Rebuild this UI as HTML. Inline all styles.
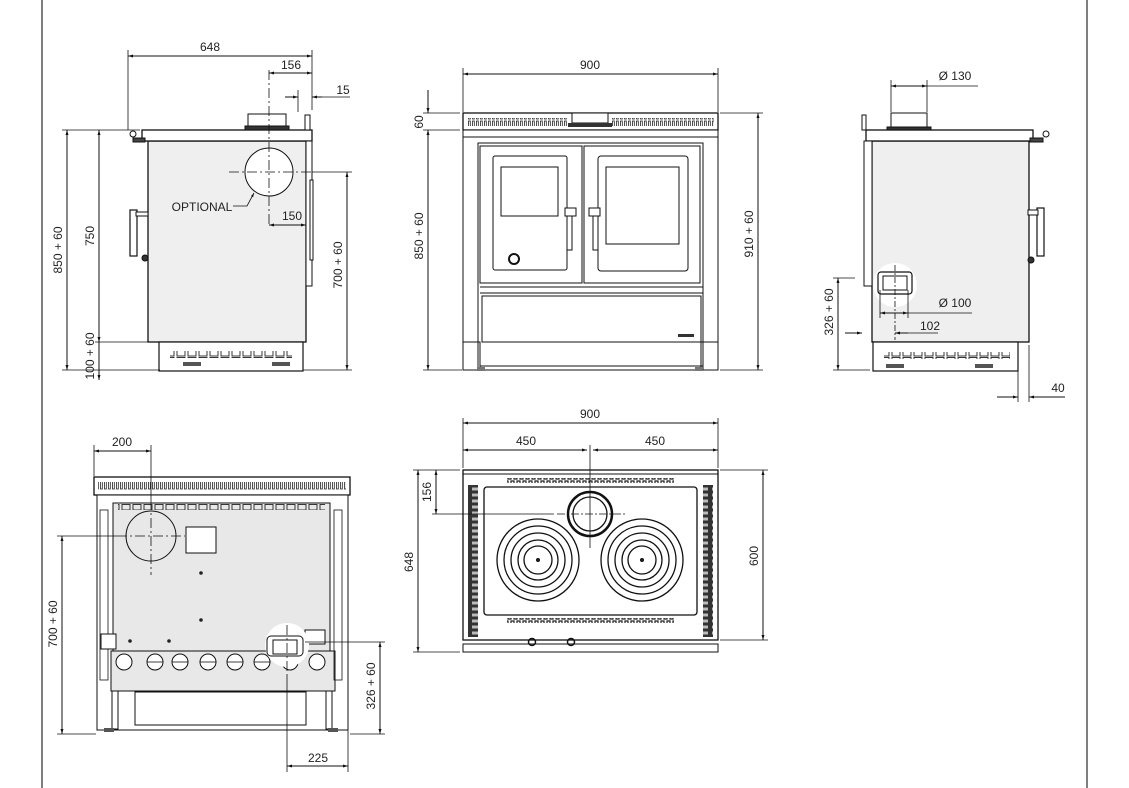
<!DOCTYPE html>
<html><head><meta charset="utf-8"><style>
html,body{margin:0;padding:0;background:#fff;}
svg{display:block;font-family:"Liberation Sans",Arial,sans-serif;}
text{font-size:12px;fill:#222;}
</style></head><body>
<svg width="1129" height="788" viewBox="0 0 1129 788" xmlns="http://www.w3.org/2000/svg">
<defs>
<marker id="a" viewBox="0 0 10 10" refX="10" refY="5" markerWidth="7" markerHeight="5" orient="auto-start-reverse"><path d="M0,2L10,5L0,8z" fill="#111"/></marker>
<pattern id="slots" width="4" height="10" patternUnits="userSpaceOnUse"><rect x="0.5" y="1" width="1.8" height="8" fill="none" stroke="#222" stroke-width="0.8"/></pattern>
<pattern id="grille" width="10" height="6" patternUnits="userSpaceOnUse"><rect x="0" y="0" width="10" height="6" fill="#333"/><rect x="2" y="1.5" width="6" height="3" fill="#bbb"/></pattern>
<pattern id="teeth" width="6" height="5" patternUnits="userSpaceOnUse"><path d="M0,4H1V1H4V4H6" fill="none" stroke="#222" stroke-width="1.2"/></pattern>
<pattern id="vents" width="11" height="7" patternUnits="userSpaceOnUse"><rect x="1" y="0.5" width="8" height="5.5" fill="none" stroke="#222" stroke-width="0.9"/></pattern>
</defs>
<g stroke="#111" stroke-width="1" fill="none">
<line x1="42" y1="0" x2="42" y2="788" stroke="#555" stroke-width="1.5"/>
<line x1="1087" y1="0" x2="1087" y2="788" stroke="#555" stroke-width="1.5"/>

<!-- ===== LEFT SIDE VIEW ===== -->
<rect x="148" y="141" width="158" height="201" fill="#efefef" stroke-width="1.3"/>
<rect x="142" y="130" width="170" height="11" fill="#fff" stroke-width="1.3"/>
<circle cx="133" cy="134" r="3"/>
<rect x="133" y="138" width="12" height="4" fill="#444"/>
<rect x="248" y="114" width="38" height="13" fill="#fff"/>
<rect x="245" y="126" width="44" height="4" fill="#333"/>
<rect x="305" y="115" width="5" height="15" fill="#fff"/>
<rect x="306" y="141" width="6" height="145" fill="#fff"/>
<rect x="310" y="180" width="3" height="80" fill="#fff"/>
<rect x="130" y="210" width="7" height="46" fill="#fff" stroke-width="1.2"/>
<rect x="136" y="212" width="12" height="4" fill="#fff"/>
<circle cx="145" cy="258" r="3" fill="#333"/>
<rect x="159" y="342" width="144" height="29" fill="#fff" stroke-width="1.2"/>
<rect x="170" y="351" width="122" height="7" fill="url(#vents)" stroke="none"/>
<rect x="183" y="362" width="18" height="4" fill="#555" stroke="none"/>
<rect x="272" y="362" width="18" height="4" fill="#555" stroke="none"/>
<circle cx="269" cy="172" r="24" fill="#fff"/>
<g stroke-dasharray="10,3,2,3" stroke-width="0.8">
<line x1="229" y1="172" x2="312" y2="172"/><line x1="269" y1="70" x2="269" y2="226"/></g>
<line x1="312" y1="172" x2="352" y2="172" stroke-width="0.8"/>
<line x1="128" y1="50" x2="128" y2="130" stroke-width="0.8"/>
<line x1="312" y1="50" x2="312" y2="110" stroke-width="0.8"/>
<line x1="298" y1="90" x2="298" y2="112" stroke-width="0.8"/>
<line x1="128" y1="56" x2="312" y2="56" marker-start="url(#a)" marker-end="url(#a)"/>
<line x1="269" y1="73" x2="312" y2="73" marker-start="url(#a)" marker-end="url(#a)"/>
<line x1="285" y1="97" x2="298" y2="97" marker-end="url(#a)"/>
<line x1="322" y1="97" x2="312" y2="97" marker-end="url(#a)"/>
<line x1="322" y1="97" x2="350" y2="97" stroke-width="0.8"/>
<line x1="269" y1="225" x2="306" y2="225" marker-start="url(#a)" marker-end="url(#a)"/>
<path d="M233,206H247L254,193" marker-end="url(#a)" stroke-width="0.8"/>
<line x1="62" y1="130" x2="140" y2="130" stroke-width="0.8"/>
<line x1="62" y1="370" x2="160" y2="370" stroke-width="0.8"/>
<line x1="95" y1="342" x2="148" y2="342" stroke-width="0.8"/>
<line x1="303" y1="370" x2="352" y2="370" stroke-width="0.8"/>
<line x1="67" y1="130" x2="67" y2="370" marker-start="url(#a)" marker-end="url(#a)"/>
<line x1="99" y1="130" x2="99" y2="342" marker-start="url(#a)" marker-end="url(#a)"/>
<line x1="99" y1="342" x2="99" y2="380" marker-end="url(#a)"/>
<line x1="347" y1="172" x2="347" y2="370" marker-start="url(#a)" marker-end="url(#a)"/>

<!-- ===== FRONT VIEW ===== -->
<rect x="463" y="113" width="255" height="17" fill="#fff" stroke-width="1.3"/>
<rect x="468" y="118" width="100" height="8" fill="url(#slots)" stroke="none"/>
<rect x="612" y="118" width="102" height="8" fill="url(#slots)" stroke="none"/>
<rect x="572" y="113" width="36" height="10" fill="#fff"/>
<rect x="568" y="123" width="44" height="4" fill="#333" stroke="none"/>
<rect x="463" y="130" width="255" height="7" fill="#fff"/>
<rect x="463" y="137" width="255" height="205" fill="#fff"/>
<rect x="478" y="143" width="225" height="227" fill="#fff"/>
<rect x="480" y="146" width="102" height="137"/>
<rect x="584" y="146" width="116" height="137"/>
<rect x="493" y="156" width="74" height="114" rx="2"/>
<rect x="501" y="167" width="57" height="49"/>
<circle cx="514" cy="259" r="5" stroke-width="2"/>
<rect x="598" y="156" width="90" height="115" rx="3"/>
<rect x="606" y="167" width="73" height="77"/>
<rect x="567" y="210" width="5" height="40"/><rect x="565" y="208" width="11" height="8" fill="#fff"/>
<rect x="593" y="210" width="5" height="40"/><rect x="589" y="208" width="11" height="8" fill="#fff"/>
<line x1="480" y1="287" x2="703" y2="287"/>
<line x1="480" y1="293" x2="703" y2="293"/>
<rect x="482" y="296" width="219" height="46"/>
<rect x="678" y="334" width="16" height="3" fill="#333" stroke="none"/>
<rect x="463" y="342" width="17" height="28"/><rect x="701" y="342" width="17" height="28"/>
<line x1="480" y1="366" x2="703" y2="366"/>
<rect x="477" y="367" width="8" height="4" fill="#777" stroke="none"/>
<rect x="695" y="367" width="8" height="4" fill="#777" stroke="none"/>
<line x1="463" y1="68" x2="463" y2="112" stroke-width="0.8"/>
<line x1="718" y1="68" x2="718" y2="112" stroke-width="0.8"/>
<line x1="463" y1="74" x2="718" y2="74" marker-start="url(#a)" marker-end="url(#a)"/>
<line x1="423" y1="113" x2="460" y2="113" stroke-width="0.8"/>
<line x1="423" y1="130" x2="460" y2="130" stroke-width="0.8"/>
<line x1="423" y1="370" x2="462" y2="370" stroke-width="0.8"/>
<line x1="720" y1="113" x2="763" y2="113" stroke-width="0.8"/>
<line x1="720" y1="370" x2="763" y2="370" stroke-width="0.8"/>
<line x1="428" y1="90" x2="428" y2="113" marker-end="url(#a)"/>
<line x1="428" y1="130" x2="428" y2="370" marker-start="url(#a)" marker-end="url(#a)"/>
<line x1="758" y1="113" x2="758" y2="370" marker-start="url(#a)" marker-end="url(#a)"/>

<!-- ===== RIGHT SIDE VIEW ===== -->
<rect x="872" y="141" width="157" height="201" fill="#efefef" stroke-width="1.3"/>
<rect x="866" y="130" width="167" height="11" fill="#fff" stroke-width="1.3"/>
<circle cx="1046" cy="134" r="3"/>
<rect x="1030" y="138" width="13" height="4" fill="#444"/>
<rect x="891" y="113" width="36" height="17" fill="#fff"/>
<rect x="887" y="127" width="44" height="3" fill="#333"/>
<rect x="862" y="115" width="4" height="15" fill="#fff"/>
<rect x="864" y="141" width="8" height="145" fill="#fff"/>
<rect x="1037" y="208" width="7" height="48" fill="#fff" stroke-width="1.2"/>
<rect x="1028" y="210" width="10" height="5" fill="#fff"/>
<circle cx="1031" cy="260" r="3" fill="#333"/>
<circle cx="895" cy="285" r="22" fill="#fff" stroke="none"/>
<rect x="878" y="272" width="34" height="22" rx="3" fill="#fff" stroke-width="1.2"/>
<rect x="883" y="276" width="24" height="14" fill="none"/>
<rect x="873" y="342" width="145" height="29" fill="#fff" stroke-width="1.2"/>
<rect x="884" y="352" width="126" height="7" fill="url(#vents)" stroke="none"/>
<rect x="886" y="364" width="18" height="4" fill="#555" stroke="none"/>
<rect x="975" y="364" width="18" height="4" fill="#555" stroke="none"/>
<line x1="891" y1="80" x2="891" y2="112" stroke-width="0.8"/>
<line x1="927" y1="80" x2="927" y2="112" stroke-width="0.8"/>
<line x1="891" y1="86" x2="927" y2="86" marker-start="url(#a)" marker-end="url(#a)"/>
<line x1="927" y1="86" x2="978" y2="86" stroke-width="0.8"/>
<line x1="880" y1="290" x2="880" y2="318" stroke-width="0.8"/>
<line x1="908" y1="290" x2="908" y2="318" stroke-width="0.8"/>
<line x1="880" y1="313" x2="908" y2="313" marker-start="url(#a)" marker-end="url(#a)"/>
<line x1="908" y1="313" x2="972" y2="313" stroke-width="0.8"/>
<line x1="895" y1="265" x2="895" y2="340" stroke-dasharray="6,2,2,2" stroke-width="0.8"/>
<line x1="845" y1="333" x2="862" y2="333" marker-end="url(#a)"/>
<line x1="908" y1="333" x2="895" y2="333" marker-end="url(#a)"/>
<line x1="908" y1="333" x2="938" y2="333" stroke-width="0.8"/>
<line x1="833" y1="278" x2="855" y2="278" stroke-width="0.8"/>
<line x1="833" y1="370" x2="870" y2="370" stroke-width="0.8"/>
<line x1="838" y1="278" x2="838" y2="370" marker-start="url(#a)" marker-end="url(#a)"/>
<line x1="1018" y1="345" x2="1018" y2="402" stroke-width="0.8"/>
<line x1="1029" y1="345" x2="1029" y2="402" stroke-width="0.8"/>
<line x1="997" y1="397" x2="1018" y2="397" marker-end="url(#a)"/>
<line x1="1065" y1="397" x2="1029" y2="397" marker-end="url(#a)"/>

<!-- ===== BACK VIEW ===== -->
<rect x="94" y="477" width="256" height="18" fill="#fff" stroke-width="1.3"/>
<rect x="98" y="482" width="248" height="8" fill="url(#slots)" stroke="none"/>
<rect x="97" y="495" width="251" height="235" fill="#fff"/>
<rect x="113" y="503" width="217" height="148" fill="#e8e8e8"/>
<rect x="118" y="503" width="207" height="7" fill="url(#vents)" stroke="none"/>
<rect x="111" y="651" width="224" height="40" fill="#e8e8e8"/>
<rect x="100" y="510" width="8" height="170" fill="none" stroke-width="0.8"/>
<rect x="334" y="510" width="8" height="170" fill="none" stroke-width="0.8"/>
<rect x="101" y="634" width="15" height="15" fill="#fff"/>
<rect x="305" y="630" width="20" height="14" fill="#fff"/>
<circle cx="151" cy="536" r="25" fill="#e8e8e8"/>
<rect x="186" y="527" width="30" height="26" fill="#fff"/>
<g fill="#222" stroke="none">
<circle cx="201" cy="573" r="1.8"/><circle cx="201" cy="620" r="1.8"/><circle cx="130" cy="641" r="1.8"/><circle cx="169" cy="641" r="1.8"/>
</g>
<g fill="#fff">
<circle cx="124" cy="662" r="8"/><circle cx="155" cy="662" r="8"/><circle cx="180" cy="662" r="8"/><circle cx="208" cy="662" r="8"/><circle cx="235" cy="662" r="8"/><circle cx="262" cy="662" r="8"/><circle cx="290" cy="662" r="8"/><circle cx="317" cy="662" r="8"/>
</g>
<g stroke-width="0.8">
<line x1="147" y1="662" x2="163" y2="662"/><line x1="172" y1="662" x2="188" y2="662"/><line x1="200" y1="662" x2="216" y2="662"/><line x1="227" y1="662" x2="243" y2="662"/><line x1="254" y1="662" x2="270" y2="662"/><line x1="282" y1="662" x2="298" y2="662"/>
</g>
<circle cx="287" cy="645" r="22" fill="#fff" stroke="none"/>
<rect x="267" y="636" width="36" height="20" rx="4" fill="#fff"/>
<rect x="273" y="640" width="24" height="14" fill="#fff"/>
<rect x="135" y="692" width="171" height="33" fill="#fff"/>
<line x1="97" y1="730" x2="348" y2="730"/>
<rect x="112" y="691" width="6" height="38"/><rect x="326" y="691" width="6" height="38"/>
<rect x="104" y="728" width="10" height="4" fill="#555" stroke="none"/><rect x="328" y="728" width="10" height="4" fill="#555" stroke="none"/>
<g stroke-dasharray="10,3,2,3" stroke-width="0.8">
<line x1="117" y1="536" x2="185" y2="536"/><line x1="151" y1="500" x2="151" y2="575"/>
<line x1="287" y1="625" x2="287" y2="675"/></g>
<line x1="94" y1="445" x2="94" y2="476" stroke-width="0.8"/>
<line x1="151" y1="445" x2="151" y2="500" stroke-width="0.8"/>
<line x1="94" y1="451" x2="151" y2="451" marker-start="url(#a)" marker-end="url(#a)"/>
<line x1="57" y1="536" x2="117" y2="536" stroke-width="0.8"/>
<line x1="57" y1="734" x2="96" y2="734" stroke-width="0.8"/>
<line x1="62" y1="536" x2="62" y2="734" marker-start="url(#a)" marker-end="url(#a)"/>
<line x1="287" y1="675" x2="287" y2="772" stroke-width="0.8"/>
<line x1="348" y1="730" x2="348" y2="772" stroke-width="0.8"/>
<line x1="287" y1="766" x2="348" y2="766" marker-start="url(#a)" marker-end="url(#a)"/>
<line x1="305" y1="642" x2="385" y2="642" stroke-width="0.8"/>
<line x1="350" y1="734" x2="385" y2="734" stroke-width="0.8"/>
<line x1="380" y1="642" x2="380" y2="734" marker-start="url(#a)" marker-end="url(#a)"/>

<!-- ===== TOP VIEW ===== -->
<rect x="463" y="470" width="255" height="170" fill="#fff" stroke-width="1.3"/>
<line x1="463" y1="474" x2="718" y2="474"/>
<rect x="468" y="485" width="10" height="152" fill="url(#grille)" stroke="none"/>
<rect x="703" y="485" width="10" height="152" fill="url(#grille)" stroke="none"/>
<rect x="507" y="478" width="167" height="5" fill="url(#teeth)" stroke="none"/>
<rect x="507" y="618" width="167" height="5" fill="url(#teeth)" stroke="none"/>
<rect x="484" y="487" width="213" height="128" rx="3" stroke-width="1.3"/>
<circle cx="590" cy="514" r="22" fill="#fff" stroke-width="2.5"/>
<circle cx="590" cy="514" r="17" fill="#fff" stroke-width="1.3"/>
<circle cx="538" cy="560" r="41" fill="#fff" stroke-width="1.3"/>
<circle cx="538" cy="560" r="34" stroke-width="1.3"/><circle cx="538" cy="560" r="27" stroke-width="1.3"/><circle cx="538" cy="560" r="20" stroke-width="1.3"/><circle cx="538" cy="560" r="14" stroke-width="1.3"/>
<circle cx="538" cy="560" r="1.5" fill="#222"/>
<circle cx="642" cy="560" r="41" fill="#fff" stroke-width="1.3"/>
<circle cx="642" cy="560" r="34" stroke-width="1.3"/><circle cx="642" cy="560" r="27" stroke-width="1.3"/><circle cx="642" cy="560" r="20" stroke-width="1.3"/><circle cx="642" cy="560" r="14" stroke-width="1.3"/>
<circle cx="642" cy="560" r="1.5" fill="#222"/>
<rect x="463" y="644" width="255" height="8" fill="#fff"/>
<circle cx="532" cy="642" r="3.5" stroke-width="1.5"/><circle cx="571" cy="642" r="3.5" stroke-width="1.5"/>
<line x1="590" y1="445" x2="590" y2="548" stroke-width="0.8"/>
<line x1="432" y1="514" x2="554" y2="514" stroke-width="0.8"/>
<line x1="557" y1="514" x2="625" y2="514" stroke-dasharray="8,2,2,2" stroke-width="0.8"/>
<line x1="463" y1="418" x2="463" y2="468" stroke-width="0.8"/>
<line x1="718" y1="418" x2="718" y2="468" stroke-width="0.8"/>
<line x1="463" y1="423" x2="718" y2="423" marker-start="url(#a)" marker-end="url(#a)"/>
<line x1="463" y1="450" x2="587" y2="450" marker-start="url(#a)" marker-end="url(#a)"/>
<line x1="593" y1="450" x2="718" y2="450" marker-start="url(#a)" marker-end="url(#a)"/>
<line x1="413" y1="470" x2="460" y2="470" stroke-width="0.8"/>
<line x1="413" y1="652" x2="460" y2="652" stroke-width="0.8"/>
<line x1="720" y1="470" x2="768" y2="470" stroke-width="0.8"/>
<line x1="720" y1="640" x2="768" y2="640" stroke-width="0.8"/>
<line x1="418" y1="470" x2="418" y2="652" marker-start="url(#a)" marker-end="url(#a)"/>
<line x1="436" y1="470" x2="436" y2="514" marker-start="url(#a)" marker-end="url(#a)"/>
<line x1="763" y1="470" x2="763" y2="640" marker-start="url(#a)" marker-end="url(#a)"/>
</g>

<!-- texts -->
<text x="210" y="51" text-anchor="middle">648</text>
<text x="291" y="69" text-anchor="middle">156</text>
<text x="343" y="94" text-anchor="middle">15</text>
<text x="202" y="211" text-anchor="middle">OPTIONAL</text>
<text x="292" y="220" text-anchor="middle">150</text>
<text transform="translate(62,250) rotate(-90)" text-anchor="middle">850 + 60</text>
<text transform="translate(94,236) rotate(-90)" text-anchor="middle">750</text>
<text transform="translate(94,356) rotate(-90)" text-anchor="middle">100 + 60</text>
<text transform="translate(342,265) rotate(-90)" text-anchor="middle">700 + 60</text>

<text x="590" y="69" text-anchor="middle">900</text>
<text transform="translate(423,122) rotate(-90)" text-anchor="middle">60</text>
<text transform="translate(423,236) rotate(-90)" text-anchor="middle">850 + 60</text>
<text transform="translate(753,234) rotate(-90)" text-anchor="middle">910 + 60</text>

<text x="955" y="80" text-anchor="middle">Ø  130</text>
<text x="955" y="307" text-anchor="middle">Ø  100</text>
<text x="930" y="330" text-anchor="middle">102</text>
<text transform="translate(833,312) rotate(-90)" text-anchor="middle">326 + 60</text>
<text x="1058" y="392" text-anchor="middle">40</text>

<text x="122" y="446" text-anchor="middle">200</text>
<text transform="translate(57,624) rotate(-90)" text-anchor="middle">700 + 60</text>
<text transform="translate(375,686) rotate(-90)" text-anchor="middle">326 + 60</text>
<text x="318" y="762" text-anchor="middle">225</text>

<text x="590" y="418" text-anchor="middle">900</text>
<text x="526" y="445" text-anchor="middle">450</text>
<text x="655" y="445" text-anchor="middle">450</text>
<text transform="translate(431,492) rotate(-90)" text-anchor="middle">156</text>
<text transform="translate(413,562) rotate(-90)" text-anchor="middle">648</text>
<text transform="translate(758,556) rotate(-90)" text-anchor="middle">600</text>
</svg>
</body></html>
